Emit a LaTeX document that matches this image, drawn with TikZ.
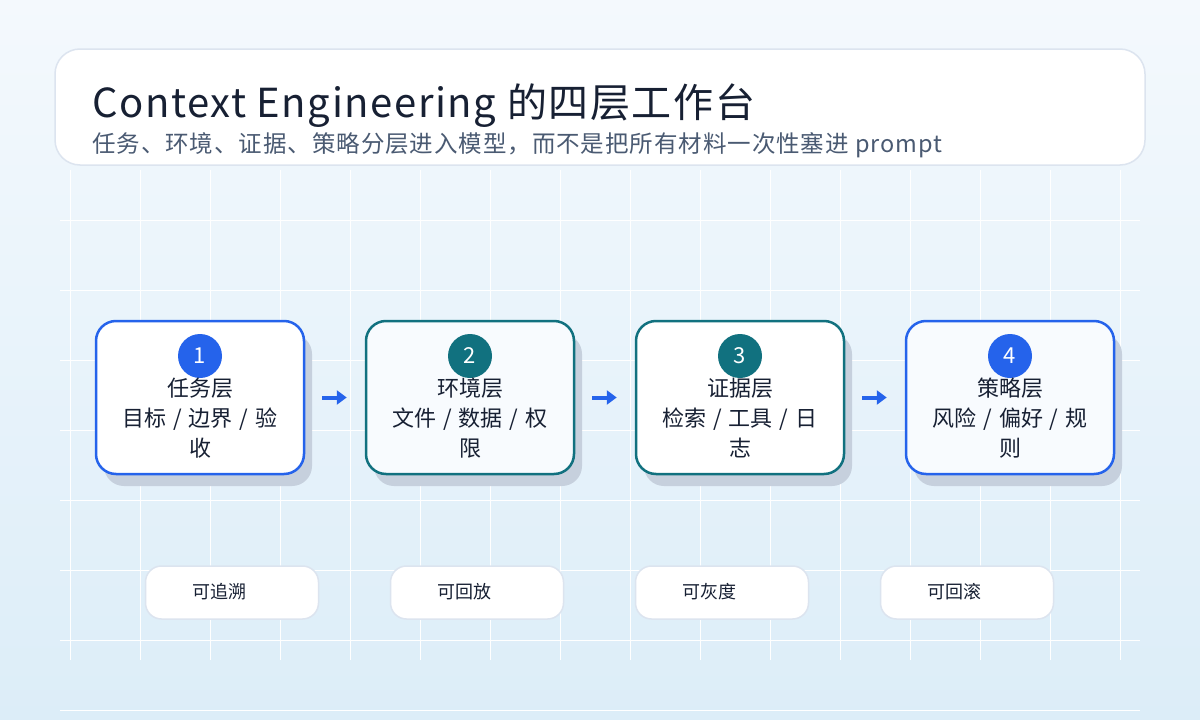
\documentclass[tikz,border=0pt]{standalone}
\usepackage{fontspec}
\setmainfont{Noto Sans CJK SC}
\newfontfamily\widecjk[LetterSpace=4]{Noto Sans CJK SC}
\usetikzlibrary{arrows.meta}
\definecolor{bgtop}{HTML}{F4F9FD}
\definecolor{bgbot}{HTML}{DCEDF8}
\definecolor{ink}{HTML}{172033}
\definecolor{subink}{HTML}{4A5A72}
\definecolor{blueline}{HTML}{2563EB}
\definecolor{tealline}{HTML}{11717F}
\definecolor{shadowgray}{HTML}{C6D0DD}
\definecolor{edge}{HTML}{DCE4EF}
\newcommand{\sep}{\hspace{7pt}/\hspace{7pt}}
\tikzset{
  layer/.style={draw=#1, line width=2.5pt, rounded corners=20pt, minimum width=208pt,
    minimum height=153pt, fill=white},
  badge/.style={circle, fill=#1, minimum size=44pt, inner sep=0pt, text=white,
    font=\fontsize{22}{22}\selectfont},
  tag/.style={draw=edge, line width=1.5pt, rounded corners=16pt, fill=white,
    minimum width=173pt, minimum height=53pt},
  flow/.style={-{Triangle[length=10pt,width=14pt]}, blueline, line width=4pt}
}
\begin{document}
\begin{tikzpicture}[x=1pt,y=-1pt]
\shade[top color=bgtop, bottom color=bgbot] (0,0) rectangle (1200,720);
\useasboundingbox (0,0) rectangle (1200,720);
% grid
\foreach \y in {220,290,...,710} \draw[white, line width=1pt] (60,\y) -- (1140,\y);
\foreach \x in {70,140,...,1130} \draw[white, line width=1pt] (\x,170) -- (\x,660);
% header
\node[draw=edge, line width=1.5pt, rounded corners=25pt, fill=white, minimum width=1090pt,
  minimum height=116pt] (head) at (600,107) {};
\node[anchor=base west, text=ink, font=\widecjk\fontsize{40}{40}\selectfont, inner sep=0pt] (title)
  at (92,117) {Context Engineering 的四层工作台};
\node[anchor=base west, text=subink, font=\widecjk\fontsize{23.5}{24}\selectfont, inner sep=0pt] (sub)
  at (92,152) {任务、环境、证据、策略分层进入模型，而不是把所有材料一次性塞进 prompt};
% layers
\foreach \n/\cx/\col/\fil/\a/\b/\c in {
  1/200/blueline/white/任务层/{目标\sep 边界\sep 验}/收,
  2/470/tealline/bgtop!60!white/环境层/{文件\sep 数据\sep 权}/限,
  3/740/tealline/white/证据层/{检索\sep 工具\sep 日}/志,
  4/1010/blueline/bgtop!60!white/策略层/{风险\sep 偏好\sep 规}/则}{
  \fill[shadowgray, rounded corners=20pt] (\cx-96,334) rectangle (\cx+112,486);
  \node[layer=\col, fill=\fil] (L\n) at (\cx,397.5) {};
  \node[badge=\col] (B\n) at (\cx,356) {\n};
  \node[align=center, text=ink, font=\fontsize{22}{30}\selectfont] (T\n) at (\cx,418) {\a\\\b\\\c};
}
\foreach \i/\j in {1/2,2/3,3/4}
  \draw[flow] ([xshift=17pt]L\i.east) -- ([xshift=-18pt]L\j.west);
% tags
\foreach \n/\cx/\t in {1/232/可追溯,2/477/可回放,3/722/可灰度,4/967/可回滚}{
  \node[tag] (G\n) at (\cx,592.5) {};
  \node[anchor=west, text=ink, font=\fontsize{18}{18}\selectfont] (GT\n) at (\cx-43,592) {\t};
}
\end{tikzpicture}
\end{document}
